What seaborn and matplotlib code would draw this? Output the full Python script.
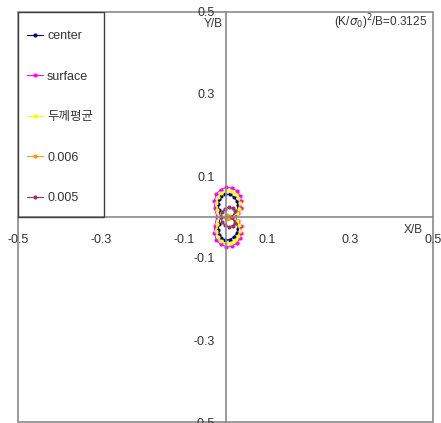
import matplotlib
matplotlib.use("Agg")
import matplotlib.pyplot as plt
from matplotlib.lines import Line2D
from matplotlib.patches import Rectangle
import pandas as pd
import seaborn as sns

# Plastic zone outlines around the crack tip (normalized by thickness B)
center_x = [0.015, 0.024, 0.029, 0.030, 0.027, 0.020, 0.010, -0.001, -0.010, -0.015, -0.017, -0.016, -0.012,
            -0.016, -0.017, -0.015, -0.010, -0.001, 0.010, 0.020, 0.027, 0.030, 0.029, 0.024, 0.015]
center_y = [0.000, 0.008, 0.018, 0.029, 0.040, 0.049, 0.055, 0.056, 0.052, 0.043, 0.031, 0.016, 0.000,
            -0.016, -0.031, -0.043, -0.052, -0.056, -0.055, -0.049, -0.040, -0.029, -0.018, -0.008, 0.000]

surface_x = [0.020, 0.031, 0.037, 0.038, 0.035, 0.027, 0.015, 0.001, -0.012, -0.022, -0.027, -0.026, -0.021,
             -0.026, -0.027, -0.022, -0.012, 0.001, 0.015, 0.027, 0.035, 0.038, 0.037, 0.031, 0.020]
surface_y = [0.000, 0.010, 0.023, 0.038, 0.052, 0.064, 0.071, 0.072, 0.067, 0.056, 0.040, 0.021, 0.000,
             -0.021, -0.040, -0.056, -0.067, -0.072, -0.071, -0.064, -0.052, -0.038, -0.023, -0.010, 0.000]

avg_x = [0.017, 0.027, 0.032, 0.034, 0.031, 0.024, 0.013, 0.000, -0.011, -0.018, -0.022, -0.021, -0.016,
         -0.021, -0.022, -0.018, -0.011, 0.000, 0.013, 0.024, 0.031, 0.034, 0.032, 0.027, 0.017]
avg_y = [0.000, 0.009, 0.020, 0.033, 0.046, 0.056, 0.063, 0.064, 0.059, 0.049, 0.035, 0.018, 0.000,
         -0.018, -0.035, -0.049, -0.059, -0.064, -0.063, -0.056, -0.046, -0.033, -0.020, -0.009, 0.000]

p006_x = [0.009, 0.0075, 0.004, 0.0005, -0.001, 0.0005, 0.004, 0.0075, 0.009]
p006_y = [0.000, 0.0035, 0.005, 0.0035, 0.000, -0.0035, -0.005, -0.0035, 0.000]

p005_x = [0.016, 0.024, 0.017, 0.008, -0.002, -0.009, -0.011, -0.009, -0.002, 0.008, 0.017, 0.024, 0.016]
p005_y = [0.000, 0.014, 0.021, 0.024, 0.020, 0.011, 0.000, -0.011, -0.020, -0.024, -0.021, -0.014, 0.000]

series_names = ["center", "surface", "두께평균", "0.006", "0.005"]
series_colors = ["#000080", "#ff00ff", "#ffff00", "#ff9900", "#993366"]

tick_values = [-0.5, -0.3, -0.1, 0.1, 0.3, 0.5]
tick_labels = ["-0.5", "-0.3", "-0.1", "0.1", "0.3", "0.5"]

frames = []
for name, xs, ys in zip(series_names,
                        [center_x, surface_x, avg_x, p006_x, p005_x],
                        [center_y, surface_y, avg_y, p006_y, p005_y]):
    frames.append(pd.DataFrame({"series": name, "order": range(len(xs)), "x": xs, "y": ys}))
df = pd.concat(frames, ignore_index=True)

sns.set_style("white")
plt.rcParams["font.family"] = ["Liberation Sans", "Noto Sans CJK KR"]

fig = plt.figure(figsize=(4.41, 4.23), dpi=100)
ax = fig.add_axes([18 / 441, 1 / 423, 415 / 441, 410 / 423])

palette = dict(zip(series_names, series_colors))
sns.lineplot(data=df, x="x", y="y", hue="series", hue_order=series_names, palette=palette,
             units="series", estimator=None, sort=False, marker="o", markersize=3,
             markeredgewidth=0, linewidth=0.7, legend=False, ax=ax)

ax.set_xlim(-0.5, 0.5)
ax.set_ylim(-0.5, 0.5)
ax.set_xlabel("")
ax.set_ylabel("")

axis_gray = "#8a8a8a"
text_color = "#333333"
for side in ["top", "right"]:
    ax.spines[side].set_visible(False)
for side in ["left", "bottom"]:
    ax.spines[side].set_position(("data", 0))
    ax.spines[side].set_color(axis_gray)
    ax.spines[side].set_linewidth(1.2)
ax.add_patch(Rectangle((0, 0), 1, 1, transform=ax.transAxes, fill=False,
                       edgecolor=axis_gray, linewidth=1.2, clip_on=False, zorder=0))

ax.set_xticks(tick_values)
ax.set_xticklabels(tick_labels)
ax.set_yticks(tick_values)
ax.set_yticklabels(tick_labels)
ax.tick_params(axis="both", direction="in", length=4, width=1, color=axis_gray,
               labelsize=9, labelcolor=text_color)
ax.tick_params(axis="x", pad=12)
ax.tick_params(axis="y", pad=7.5)

ax.text(-0.006, 0.486, "Y/B", ha="right", va="top", fontsize=8.5, color=text_color)
ax.text(0.476, -0.017, "X/B", ha="right", va="top", fontsize=8.5, color=text_color)
ax.text(0.486, 0.476, r"(K/$\sigma_0$)$^2$/B=0.3125", ha="right", va="center",
        fontsize=8.5, color=text_color)

# legend box
ax.add_patch(Rectangle((-0.5, 0.0), 0.207, 0.5, fill=False, edgecolor="#404040",
                       linewidth=1.0, zorder=3))
handles = [Line2D([], [], color=c, marker="o", markersize=3, markeredgewidth=0, linewidth=0.8)
           for c in series_colors]
leg = ax.legend(handles, series_names, loc="upper left", bbox_to_anchor=(0.022, 0.956),
                frameon=False, fontsize=9, handlelength=1.3, handletextpad=0.3,
                labelspacing=2.28, borderpad=0, borderaxespad=0)
for t in leg.get_texts():
    t.set_color(text_color)

fig.savefig("out.png", dpi=100)
